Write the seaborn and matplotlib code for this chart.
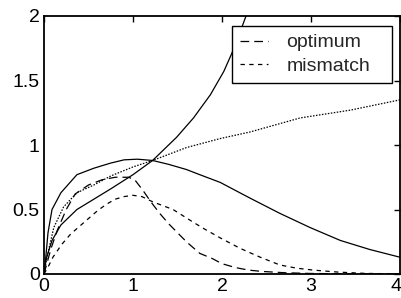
import matplotlib
matplotlib.use("Agg")
import matplotlib.pyplot as plt
import matplotlib.transforms as mtransforms
import seaborn as sns

# ---- data ----
peak_x = [0, 0.02, 0.045, 0.09, 0.19, 0.37, 0.56, 0.75, 0.9, 1.05, 1.22, 1.4, 1.6, 1.75,
          1.98, 2.31, 2.65, 2.99, 3.33, 3.66, 4.0]
peak_y = [0, 0.13, 0.32, 0.50, 0.63, 0.77, 0.82, 0.86, 0.885, 0.89, 0.88, 0.85, 0.81, 0.77,
          0.71, 0.59, 0.47, 0.36, 0.26, 0.19, 0.13]

slow_x = [0, 0.02, 0.06, 0.11, 0.22, 0.37, 0.56, 0.75, 1.0, 1.22, 1.6, 1.98, 2.31, 2.88, 3.44, 4.0]
slow_y = [0, 0.08, 0.21, 0.36, 0.52, 0.63, 0.69, 0.76, 0.83, 0.88, 0.98, 1.05, 1.10, 1.21, 1.27, 1.35]

rise_x = [0, 0.01, 0.03, 0.09, 0.19, 0.37, 0.56, 0.75, 1.0, 1.22, 1.34, 1.49, 1.68, 1.87,
          2.02, 2.11, 2.2, 2.27, 2.35]
rise_y = [0, 0.06, 0.13, 0.26, 0.38, 0.50, 0.58, 0.66, 0.77, 0.88, 0.96, 1.06, 1.21, 1.39,
          1.57, 1.71, 1.87, 2.0, 2.15]

opt_x = [0, 0.04, 0.08, 0.15, 0.25, 0.35, 0.5, 0.65, 0.8, 0.95, 1.02, 1.11, 1.2, 1.3, 1.4,
         1.5, 1.6, 1.75, 1.89, 2.0, 2.15, 2.3, 2.45, 2.7, 3.0, 3.5, 4.0]
opt_y = [0, 0.10, 0.20, 0.34, 0.50, 0.62, 0.69, 0.73, 0.75, 0.75, 0.73, 0.65, 0.56, 0.47, 0.39,
         0.32, 0.25, 0.16, 0.12, 0.08, 0.05, 0.03, 0.02, 0.01, 0.004, 0.001, 0]

mis_x = [0, 0.05, 0.1, 0.2, 0.3, 0.4, 0.5, 0.6, 0.7, 0.8, 0.9, 1.0, 1.1, 1.22, 1.45, 1.68,
         1.8, 1.98, 2.2, 2.43, 2.65, 2.84, 3.03, 3.3, 3.6, 4.0]
mis_y = [0, 0.06, 0.13, 0.23, 0.31, 0.37, 0.43, 0.49, 0.54, 0.58, 0.6, 0.61, 0.6, 0.56, 0.5,
         0.4, 0.35, 0.28, 0.2, 0.13, 0.07, 0.045, 0.03, 0.015, 0.005, 0]

x_ticks = [0, 1, 2, 3, 4]
y_ticks = [0, 0.5, 1, 1.5, 2]
y_ticklabels = ["0", "0.5", "1", "1.5", "2"]
legend_labels = ["optimum", "mismatch"]

sns.set_style("white")
plt.rcParams["font.family"] = ["Liberation Sans", "DejaVu Sans"]

fig = plt.figure(figsize=(4.02, 2.98), dpi=100)
ax = fig.add_axes([44 / 402, 1 - 274 / 298, 356 / 402, 258 / 298])

lw = 0.9
sns.lineplot(x=peak_x, y=peak_y, ax=ax, color="k", lw=lw, linestyle="-")
sns.lineplot(x=rise_x, y=rise_y, ax=ax, color="k", lw=lw, linestyle="-")
sns.lineplot(x=slow_x, y=slow_y, ax=ax, color="k", lw=lw, linestyle=(0, (1.2, 1.2)))
sns.lineplot(x=opt_x, y=opt_y, ax=ax, color="k", lw=lw, linestyle=(0, (7, 4)),
             label=legend_labels[0])
sns.lineplot(x=mis_x, y=mis_y, ax=ax, color="k", lw=lw, linestyle=(0, (3.5, 3.5)),
             label=legend_labels[1])

ax.set_xlim(0, 4)
ax.set_ylim(0, 2)
ax.set_xticks(x_ticks)
ax.set_xticklabels([str(t) for t in x_ticks])
ax.set_yticks(y_ticks)
ax.set_yticklabels(y_ticklabels)
ax.tick_params(direction="in", length=4, width=1, top=True, right=True,
               labelsize=14, pad=3, colors="k")
for s in ax.spines.values():
    s.set_color("k")
    s.set_linewidth(1.3)
ax.set_xlabel("")
ax.set_ylabel("")

# keep the last x tick label just inside the figure
last = ax.get_xticklabels()[-1]
last.set_transform(last.get_transform() +
                   mtransforms.ScaledTranslation(-4 / 100, 0, fig.dpi_scale_trans))

leg = ax.legend(loc="upper left",
                bbox_to_anchor=(232 / 402, 1 - 83 / 298, 160 / 402, 57 / 298),
                bbox_transform=fig.transFigure, borderaxespad=0, mode="expand",
                fontsize=14, frameon=True, fancybox=False,
                framealpha=1, edgecolor="k", handlelength=1.45, handletextpad=0.95,
                borderpad=0.4, labelspacing=0.3)
leg.get_frame().set_linewidth(1.0)

fig.savefig("out.png", dpi=100)
